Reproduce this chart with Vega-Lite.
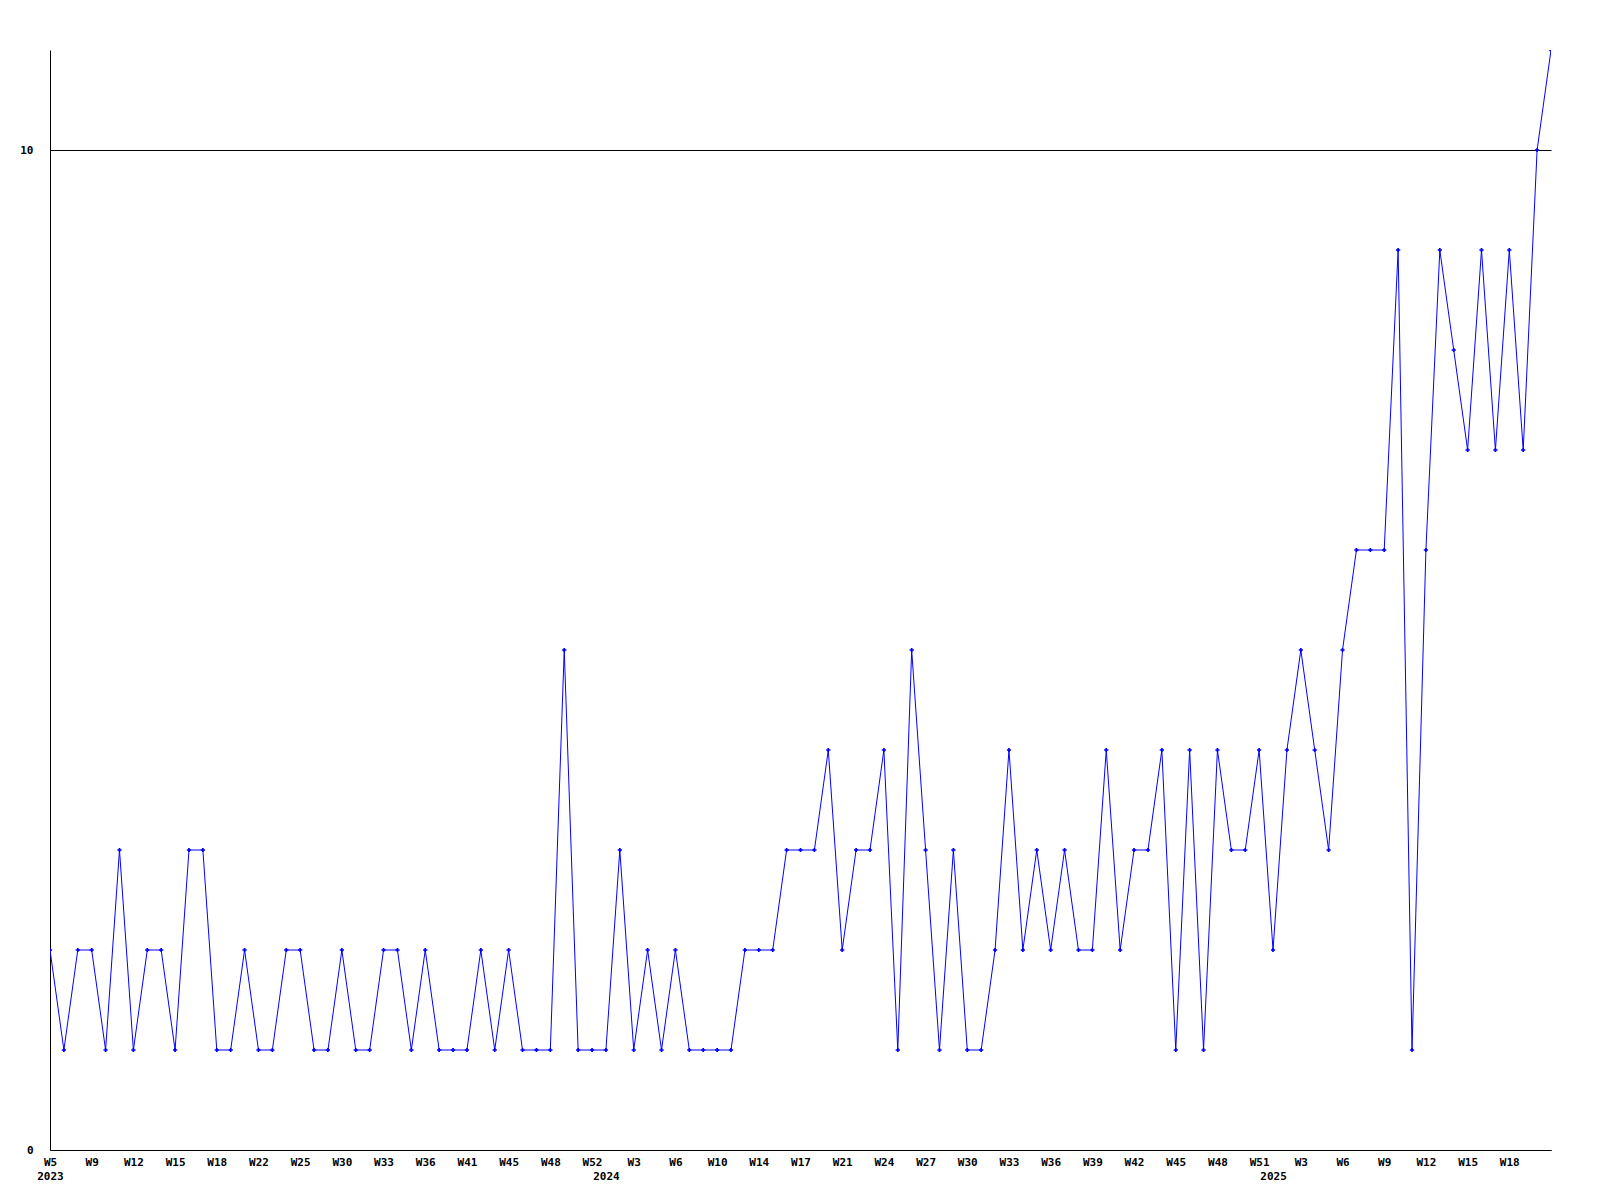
{
  "$schema": "https://vega.github.io/schema/vega-lite/v6.json",
  "autosize": "none",
  "width": 1501,
  "height": 1100,
  "padding": {"left": 50, "top": 50, "right": 49, "bottom": 50},
  "background": "white",
  "config": {"view": {"stroke": null}},
  "data": {"values": [
    {"week":"2023-W05","count":2},{"week":"2023-W06","count":1},{"week":"2023-W08","count":2},{"week":"2023-W09","count":2},
    {"week":"2023-W10","count":1},{"week":"2023-W11","count":3},{"week":"2023-W12","count":1},{"week":"2023-W13","count":2},
    {"week":"2023-W14","count":2},{"week":"2023-W15","count":1},{"week":"2023-W16","count":3},{"week":"2023-W17","count":3},
    {"week":"2023-W18","count":1},{"week":"2023-W19","count":1},{"week":"2023-W20","count":2},{"week":"2023-W22","count":1},
    {"week":"2023-W23","count":1},{"week":"2023-W24","count":2},{"week":"2023-W25","count":2},{"week":"2023-W26","count":1},
    {"week":"2023-W28","count":1},{"week":"2023-W30","count":2},{"week":"2023-W31","count":1},{"week":"2023-W32","count":1},
    {"week":"2023-W33","count":2},{"week":"2023-W34","count":2},{"week":"2023-W35","count":1},{"week":"2023-W36","count":2},
    {"week":"2023-W37","count":1},{"week":"2023-W39","count":1},{"week":"2023-W41","count":1},{"week":"2023-W42","count":2},
    {"week":"2023-W43","count":1},{"week":"2023-W45","count":2},{"week":"2023-W46","count":1},{"week":"2023-W47","count":1},
    {"week":"2023-W48","count":1},{"week":"2023-W49","count":5},{"week":"2023-W50","count":1},{"week":"2023-W52","count":1},
    {"week":"2024-W01","count":1},{"week":"2024-W02","count":3},{"week":"2024-W03","count":1},{"week":"2024-W04","count":2},
    {"week":"2024-W05","count":1},{"week":"2024-W06","count":2},{"week":"2024-W07","count":1},{"week":"2024-W08","count":1},
    {"week":"2024-W10","count":1},{"week":"2024-W11","count":1},{"week":"2024-W12","count":2},{"week":"2024-W14","count":2},
    {"week":"2024-W15","count":2},{"week":"2024-W16","count":3},{"week":"2024-W17","count":3},{"week":"2024-W18","count":3},
    {"week":"2024-W19","count":4},{"week":"2024-W21","count":2},{"week":"2024-W22","count":3},{"week":"2024-W23","count":3},
    {"week":"2024-W24","count":4},{"week":"2024-W25","count":1},{"week":"2024-W26","count":5},{"week":"2024-W27","count":3},
    {"week":"2024-W28","count":1},{"week":"2024-W29","count":3},{"week":"2024-W30","count":1},{"week":"2024-W31","count":1},
    {"week":"2024-W32","count":2},{"week":"2024-W33","count":4},{"week":"2024-W34","count":2},{"week":"2024-W35","count":3},
    {"week":"2024-W36","count":2},{"week":"2024-W37","count":3},{"week":"2024-W38","count":2},{"week":"2024-W39","count":2},
    {"week":"2024-W40","count":4},{"week":"2024-W41","count":2},{"week":"2024-W42","count":3},{"week":"2024-W43","count":3},
    {"week":"2024-W44","count":4},{"week":"2024-W45","count":1},{"week":"2024-W46","count":4},{"week":"2024-W47","count":1},
    {"week":"2024-W48","count":4},{"week":"2024-W49","count":3},{"week":"2024-W50","count":3},{"week":"2024-W51","count":4},
    {"week":"2025-W01","count":2},{"week":"2025-W02","count":4},{"week":"2025-W03","count":5},{"week":"2025-W04","count":4},
    {"week":"2025-W05","count":3},{"week":"2025-W06","count":5},{"week":"2025-W07","count":6},{"week":"2025-W08","count":6},
    {"week":"2025-W09","count":6},{"week":"2025-W10","count":9},{"week":"2025-W11","count":1},{"week":"2025-W12","count":6},
    {"week":"2025-W13","count":9},{"week":"2025-W14","count":8},{"week":"2025-W15","count":7},{"week":"2025-W16","count":9},
    {"week":"2025-W17","count":7},{"week":"2025-W18","count":9},{"week":"2025-W19","count":7},{"week":"2025-W20","count":10},
    {"week":"2025-W21","count":11}
  ]},
  "mark": {"type": "line", "color": "#0000FF", "strokeWidth": 1, "interpolate": "linear", "clip": true,
           "point": {"shape": "cross", "size": 18, "filled": true, "color": "#0000FF"}},
  "encoding": {
    "x": {
      "field": "week", "type": "ordinal", "sort": null,
      "scale": {"type": "point", "padding": 0},
      "axis": {
        "title": null,
        "values": ["2023-W05","2023-W09","2023-W12","2023-W15","2023-W18","2023-W22","2023-W25","2023-W30","2023-W33","2023-W36","2023-W41","2023-W45","2023-W48","2023-W52","2024-W01","2024-W03","2024-W06","2024-W10","2024-W14","2024-W17","2024-W21","2024-W24","2024-W27","2024-W30","2024-W33","2024-W36","2024-W39","2024-W42","2024-W45","2024-W48","2024-W51","2025-W01","2025-W03","2025-W06","2025-W09","2025-W12","2025-W15","2025-W18"],
        "labelExpr": "(datum.value == '2024-W01' || datum.value == '2025-W01') ? [' ', substring(datum.value, 0, 4)] : (datum.value == '2023-W05' ? ['W5', '2023'] : 'W' + parseInt(substring(datum.value, 6)))",
        "labelAngle": 0,
        "labelAlign": "center",
        "labelBaseline": "top",
        "labelPadding": 6,
        "labelLineHeight": 14,
        "labelOverlap": false,
        "labelBound": false,
        "labelFlush": false,
        "labelFont": "DejaVu Sans Mono",
        "labelFontWeight": "bold",
        "labelFontSize": 11,
        "labelColor": "black",
        "ticks": false,
        "tickSize": 0,
        "grid": false,
        "domainColor": "black",
        "domainWidth": 1
      }
    },
    "y": {
      "field": "count", "type": "quantitative",
      "scale": {"domain": [0, 11], "nice": false, "zero": true},
      "axis": {
        "title": null,
        "values": [0, 10],
        "ticks": false,
        "tickSize": 0,
        "labelPadding": 17,
        "labelFont": "DejaVu Sans Mono",
        "labelFontWeight": "bold",
        "labelFontSize": 11,
        "labelColor": "black",
        "grid": true,
        "gridColor": "black",
        "gridOpacity": 1,
        "gridWidth": 1,
        "domainColor": "black",
        "domainWidth": 1
      }
    }
  }
}
